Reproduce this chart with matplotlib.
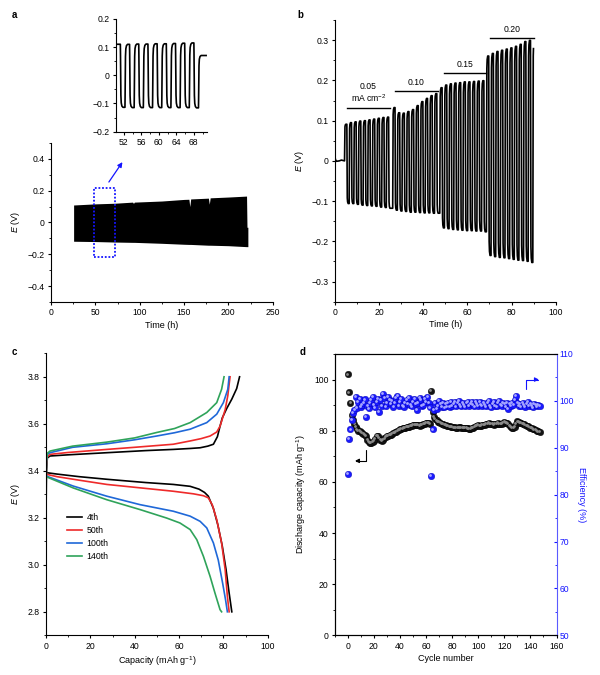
import numpy as np
import matplotlib
matplotlib.use("Agg")
import matplotlib.pyplot as plt
from matplotlib.ticker import MultipleLocator, FuncFormatter, FixedLocator
import matplotlib.transforms as mtransforms

# ---------------- DATA ----------------
# panel a, main: envelope of the long cycling trace (time h, upper V, lower V)
a_env_t = [25.5, 50, 72, 92, 93, 94, 125, 150, 155.5, 156.5, 157.5, 177.5, 178.5, 179.5, 200, 220.5, 221.0, 222.0]
a_env_up = [0.110, 0.117, 0.121, 0.128, 0.120, 0.128, 0.135, 0.145, 0.146, 0.100, 0.148, 0.153, 0.115, 0.155, 0.160, 0.166, -0.03, -0.03]
a_env_lo = [-0.118, -0.120, -0.123, -0.125, -0.125, -0.125, -0.131, -0.137, -0.138, -0.138, -0.138, -0.143, -0.143, -0.143, -0.146, -0.152, -0.152, -0.152]

# panel a, inset: switching times (h) and plateau potentials (V)
a_in_t0 = 50.3
a_in_v0 = 0.110
a_in_switch = [51.2, 52.25, 53.3, 54.35, 55.4, 56.45, 57.5, 58.55, 59.6, 60.65, 61.7,
               62.75, 63.8, 64.85, 65.9, 66.95, 68.0, 69.05, 70.8]
a_in_level = [-0.116, 0.112, -0.117, 0.113, -0.117, 0.113, -0.117, 0.114, -0.117, 0.114,
              -0.117, 0.115, -0.117, 0.116, -0.117, 0.117, -0.118, 0.072]

# panel b: rest period then four current densities
b_ocv_t = [0.0, 0.3, 0.8, 2.0, 3.0, 4.4]
b_ocv_v = [0.012, 0.003, -0.001, 0.0, 0.002, 0.0]
b_currents = ["0.05\nmA cm$^{-2}$", "0.10", "0.15", "0.20"]
b_start = [4.4, 26.2, 47.5, 68.6]
b_period = 2.1
b_upper = [
    [0.092, 0.097, 0.099, 0.101, 0.102, 0.104, 0.106, 0.108, 0.110, 0.111],
    [0.135, 0.122, 0.121, 0.125, 0.130, 0.140, 0.150, 0.158, 0.165, 0.170],
    [0.185, 0.192, 0.195, 0.197, 0.198, 0.200, 0.200, 0.201, 0.202, 0.203],
    [0.265, 0.272, 0.277, 0.280, 0.283, 0.286, 0.290, 0.295, 0.302, 0.305, 0.305],
]
b_lower = [
    [-0.108, -0.108, -0.110, -0.112, -0.113, -0.114, -0.115, -0.117, -0.118, -0.120],
    [-0.125, -0.127, -0.128, -0.130, -0.130, -0.131, -0.132, -0.132, -0.133, -0.133],
    [-0.170, -0.172, -0.174, -0.175, -0.176, -0.177, -0.177, -0.178, -0.178, -0.180],
    [-0.240, -0.243, -0.245, -0.246, -0.248, -0.250, -0.252, -0.253, -0.255, -0.258],
]
b_bar_t = [(5.3, 25.2), (27.1, 46.7), (49.3, 68.6), (70.4, 90.2)]
b_bar_v = [0.1315, 0.1737, 0.2184, 0.306]

# panel c: charge / discharge profiles
c_labels = ["4th", "50th", "100th", "140th"]
c_ch_cap = [
    [0, 0.2, 0.6, 1.8, 10, 27.4, 45, 57.4, 65, 69.5, 73, 75.5, 77.3, 78.5, 79.5, 81.5, 83.8, 86.0, 87.3],
    [0, 0.2, 0.6, 1.8, 10, 27.4, 40, 57.4, 65, 70, 74, 77, 78.5, 79.5, 80.8, 82.0, 83.0],
    [0, 0.2, 0.6, 1.8, 12, 27.4, 40, 49.9, 58, 65, 72.5, 77, 80, 82.0, 82.6],
    [0, 0.2, 0.6, 1.8, 12, 27.4, 40, 49.9, 58, 65, 72.5, 77, 79.2, 80.3],
]
c_ch_E = [
    [3.21, 3.40, 3.455, 3.463, 3.468, 3.477, 3.486, 3.491, 3.495, 3.498, 3.505, 3.513, 3.545, 3.59, 3.625, 3.665, 3.705, 3.75, 3.80],
    [3.33, 3.42, 3.46, 3.470, 3.478, 3.491, 3.500, 3.513, 3.527, 3.537, 3.548, 3.565, 3.59, 3.62, 3.66, 3.72, 3.80],
    [3.35, 3.44, 3.47, 3.477, 3.500, 3.515, 3.532, 3.548, 3.562, 3.577, 3.605, 3.641, 3.69, 3.747, 3.80],
    [3.30, 3.44, 3.475, 3.484, 3.505, 3.522, 3.540, 3.563, 3.580, 3.605, 3.648, 3.69, 3.747, 3.80],
]
c_dis_cap = [
    [0, 0.3, 5, 15, 27.4, 45, 57.4, 65, 69, 71.5, 73.2, 75.5, 77.5, 79.5, 81.2, 82.6, 83.8],
    [0, 0.3, 5, 15, 27.4, 45, 57.4, 66.5, 71, 73.2, 75, 77, 79.2, 80.8, 81.8, 82.6],
    [0, 0.3, 12.3, 27.4, 42.4, 57.4, 65, 69.5, 72.5, 75.5, 77.7, 79.7, 81.0, 81.8],
    [0, 0.3, 12.3, 27.4, 42.4, 54.4, 60.4, 65, 68, 71, 74, 76.2, 78.5, 79.2],
]
c_dis_E = [
    [3.40, 3.392, 3.386, 3.375, 3.364, 3.350, 3.342, 3.334, 3.322, 3.308, 3.292, 3.24, 3.17, 3.08, 2.98, 2.88, 2.80],
    [3.39, 3.385, 3.375, 3.360, 3.342, 3.325, 3.313, 3.302, 3.294, 3.285, 3.255, 3.192, 3.093, 2.98, 2.866, 2.80],
    [3.385, 3.377, 3.335, 3.292, 3.256, 3.228, 3.207, 3.185, 3.157, 3.093, 3.02, 2.92, 2.85, 2.80],
    [3.38, 3.374, 3.327, 3.277, 3.235, 3.199, 3.178, 3.150, 3.107, 3.036, 2.951, 2.88, 2.809, 2.80],
]

# panel d: cycling performance (cycles 0..147)
d_cycle = list(range(148))
d_capacity = [
    102.0, 95.0, 91.0, 86.0, 84.0, 82.5, 81.5, 80.5, 80.0, 79.8, 79.5, 79.0, 78.8, 78.5, 78.0, 76.5,
    75.5, 75.2, 75.3, 75.6, 76.0, 76.8, 77.8, 78.0, 77.2, 76.5, 76.0, 76.3, 77.0, 77.5, 77.8, 78.0,
    78.2, 78.5, 78.8, 79.0, 79.3, 79.6, 80.0, 80.2, 80.5, 80.7, 80.9, 81.0, 81.2, 81.4, 81.5, 81.6,
    81.8, 82.0, 82.1, 82.3, 82.4, 82.4, 82.2, 82.0, 82.1, 82.3, 82.5, 82.7, 83.0, 83.2, 83.0, 82.8,
    95.5, 87.5, 85.5, 84.5, 84.0, 83.5, 83.3, 83.0, 82.8, 82.6, 82.4, 82.2, 82.0, 81.9, 81.7, 81.5,
    81.4, 81.3, 81.3, 81.2, 81.2, 81.3, 81.3, 81.2, 81.0, 81.0, 81.1, 81.0, 80.9, 80.8, 80.8, 81.0,
    81.2, 81.5, 81.8, 82.0, 82.1, 82.0, 82.0, 82.2, 82.3, 82.3, 82.5, 82.8, 83.0, 82.8, 82.5, 82.5,
    82.4, 82.5, 82.8, 83.0, 82.8, 82.5, 82.7, 83.0, 83.3, 83.2, 83.0, 82.5, 82.0, 81.5, 81.2, 81.0,
    81.5, 82.5, 83.6, 83.4, 83.2, 83.0, 82.8, 82.5, 82.3, 82.0, 81.8, 81.5, 81.2, 81.0, 80.8, 80.5,
    80.3, 80.0, 79.7, 79.4,
]
d_efficiency = [
    84.5, 91.8, 93.9, 95.9, 97.5, 98.0, 100.9, 98.5, 99.8, 100.5, 98.7, 99.2, 99.5, 100.3, 96.6, 99.0,
    98.4, 99.5, 100.2, 100.8, 99.1, 98.6, 99.8, 100.5, 97.7, 100.2, 99.0, 101.4, 100.6, 98.8, 99.5, 100.8,
    100.2, 99.3, 100.0, 98.7, 99.6, 100.6, 101.0, 99.0, 99.8, 100.5, 98.9, 98.7, 99.5, 100.2, 99.4, 100.7,
    99.1, 98.8, 99.8, 100.4, 99.3, 98.0, 99.6, 100.6, 100.2, 99.0, 99.1, 100.5, 99.8, 100.8, 99.5, 98.6,
    84.0, 93.9, 98.0, 99.5, 98.3, 99.0, 100.0, 99.3, 98.7, 99.6, 98.6, 99.4, 98.8, 99.6, 98.7, 99.7,
    98.9, 99.4, 99.7, 98.8, 99.5, 99.9, 99.2, 98.8, 99.6, 99.2, 98.8, 99.5, 99.7, 98.9, 99.3, 99.8,
    99.1, 98.8, 99.7, 99.3, 98.9, 99.8, 99.2, 98.9, 99.6, 99.2, 98.8, 99.5, 99.9, 99.0, 98.6, 99.4,
    99.7, 99.0, 98.8, 99.5, 99.9, 99.2, 99.0, 99.6, 99.3, 98.8, 99.5, 98.2, 99.4, 99.0, 99.6, 99.1,
    100.2, 101.0, 99.6, 99.0, 99.4, 98.8, 99.5, 99.1, 98.7, 99.4, 99.7, 98.9, 99.3, 99.0, 98.6, 99.4,
    99.1, 98.8, 99.2, 99.0,
]

# ---------------- STYLE ----------------
plt.rcParams.update({
    "font.family": ["Liberation Sans", "DejaVu Sans"],
    "font.size": 6,
    "mathtext.fontset": "custom",
    "mathtext.rm": "Liberation Sans",
    "mathtext.it": "Liberation Sans:italic",
    "mathtext.bf": "Liberation Sans:bold",
    "axes.linewidth": 0.8,
    "xtick.major.width": 0.8, "ytick.major.width": 0.8,
    "xtick.minor.width": 0.6, "ytick.minor.width": 0.6,
    "xtick.major.size": 2.5, "ytick.major.size": 2.5,
    "xtick.minor.size": 1.5, "ytick.minor.size": 1.5,
    "xtick.labelsize": 6.2, "ytick.labelsize": 6.2,
    "axes.labelsize": 6.5,
    "xtick.major.pad": 2.0, "ytick.major.pad": 2.0,
    "axes.labelpad": 2.5,
})

BLUE = "#1414ff"
AXBLUE = "#5a5aff"
C_COLORS = ["#000000", "#ee2a2a", "#1f68d8", "#2fa35a"]

SHAPE_DT = [0.0, 0.03, 0.07, 0.12, 0.2, 0.35, 0.6]
SHAPE_F = [0.0, 0.15, 0.55, 0.80, 0.92, 0.97, 0.99]


def square_trace(t0, v0, switch, levels):
    ts, vs = [t0], [v0]
    v = v0
    for i, L in enumerate(levels):
        s, e = switch[i], switch[i + 1]
        for dt, f in zip(SHAPE_DT, SHAPE_F):
            if s + dt < e:
                ts.append(s + dt)
                vs.append(v + (L - v) * f)
        fe = float(np.interp(e - s, SHAPE_DT + [1e9], SHAPE_F + [1.0]))
        v = v + (L - v) * fe
        ts.append(e)
        vs.append(v)
    return np.array(ts), np.array(vs)


def fmt_v(val, pos):
    if abs(val) < 1e-9:
        return "0"
    return f"{val:.1f}".replace("-", "\u2212")


def outward(ax):
    ax.tick_params(which="both", direction="out")


fig = plt.figure(figsize=(6, 6.75), dpi=100)

# ---------------- panel a main ----------------
axa = fig.add_axes([0.085, 0.5526, 0.3695, 0.2356])
axa.fill_between(a_env_t, a_env_lo, a_env_up, color="black", lw=0)
axa.set_xlim(0, 250)
axa.set_ylim(-0.5, 0.5)
axa.xaxis.set_major_locator(MultipleLocator(50))
axa.xaxis.set_minor_locator(MultipleLocator(25))
axa.yaxis.set_major_locator(MultipleLocator(0.2))
axa.yaxis.set_minor_locator(MultipleLocator(0.1))
axa.yaxis.set_major_formatter(FuncFormatter(fmt_v))
for sp in ("top", "right"):
    axa.spines[sp].set_visible(False)
outward(axa)
axa.set_xlabel("Time (h)")
axa.set_ylabel("$E$ (V)", labelpad=4)
axa.add_patch(plt.Rectangle((48.5, -0.218), 23.5, 0.436, fill=False, ec=BLUE, lw=1.3, ls=(0, (1, 1))))
axa.annotate("", xy=(82.3, 0.394), xytext=(63.5, 0.24),
             arrowprops=dict(arrowstyle="-|>", color=BLUE, lw=0.9, mutation_scale=7))

# ---------------- panel a inset ----------------
axi = fig.add_axes([0.1933, 0.805, 0.1517, 0.167])
ti, vi = square_trace(a_in_t0, a_in_v0, a_in_switch, a_in_level)
axi.plot(ti, vi, color="black", lw=1.2, solid_joinstyle="round")
axi.set_xlim(50.2, 71.0)
axi.set_ylim(-0.2, 0.2)
axi.xaxis.set_major_locator(FixedLocator([52, 56, 60, 64, 68]))
axi.xaxis.set_minor_locator(FixedLocator([54, 58, 62, 66, 70]))
axi.yaxis.set_major_locator(MultipleLocator(0.1))
axi.yaxis.set_minor_locator(MultipleLocator(0.05))
axi.yaxis.set_major_formatter(FuncFormatter(fmt_v))
for sp in ("top", "right"):
    axi.spines[sp].set_visible(False)
outward(axi)

# ---------------- panel b ----------------
axb = fig.add_axes([0.558, 0.553, 0.3683, 0.4173])
switch, levels = [b_ocv_t[-1]], []
for s, (st, ups, los) in enumerate(zip(b_start, b_upper, b_lower)):
    for k, up in enumerate(ups):
        tr = st + k * b_period
        if k > 0 or s > 0:
            switch.append(tr)
        levels.append(up)
        if k < len(los):
            switch.append(tr + b_period / 2)
            levels.append(los[k])
last_partial = len(b_upper[-1]) > len(b_lower[-1])
switch.append(switch[-1] + (0.3 if last_partial else b_period / 2))
tb, vb = square_trace(b_ocv_t[-1], b_ocv_v[-1], switch, levels)
tb = np.concatenate([b_ocv_t[:-1], tb])
vb = np.concatenate([b_ocv_v[:-1], vb])
axb.plot(tb, vb, color="black", lw=1.2)
for lab, (x0, x1), yv in zip(b_currents, b_bar_t, b_bar_v):
    axb.plot([x0, x1], [yv, yv], color="black", lw=1.0)
    axb.text((x0 + x1) / 2, yv + 0.01, lab, ha="center", va="bottom", fontsize=6.2, linespacing=1.1)
axb.set_xlim(0, 100)
axb.set_ylim(-0.35, 0.35)
axb.xaxis.set_major_locator(MultipleLocator(20))
axb.xaxis.set_minor_locator(MultipleLocator(10))
axb.yaxis.set_major_locator(MultipleLocator(0.1))
axb.yaxis.set_minor_locator(MultipleLocator(0.05))
axb.yaxis.set_major_formatter(FuncFormatter(fmt_v))
for sp in ("top", "right"):
    axb.spines[sp].set_visible(False)
outward(axb)
axb.set_xlabel("Time (h)")
axb.set_ylabel("$E$ (V)", labelpad=4)

# ---------------- panel c ----------------
axc = fig.add_axes([0.0767, 0.0588, 0.3695, 0.4178])
handles = []
for i in range(4):
    h, = axc.plot(c_ch_cap[i], c_ch_E[i], color=C_COLORS[i], lw=1.2)
    axc.plot(c_dis_cap[i], c_dis_E[i], color=C_COLORS[i], lw=1.2)
    handles.append(h)
axc.set_xlim(0, 100)
axc.set_ylim(2.7, 3.9)
axc.xaxis.set_major_locator(MultipleLocator(20))
axc.xaxis.set_minor_locator(MultipleLocator(10))
axc.yaxis.set_major_locator(MultipleLocator(0.2))
axc.yaxis.set_minor_locator(MultipleLocator(0.1))
axc.yaxis.set_major_formatter(FuncFormatter(lambda v, p: f"{v:.1f}"))
for sp in ("top", "right"):
    axc.spines[sp].set_visible(False)
outward(axc)
axc.set_xlabel("Capacity (mAh g$^{-1}$)")
axc.set_ylabel("$E$ (V)", labelpad=4)
axc.legend(handles, c_labels, loc="upper left", bbox_to_anchor=(0.08, 0.445), frameon=False,
           handlelength=1.7, handletextpad=0.5, labelspacing=0.45, fontsize=6.3, borderaxespad=0)

# ---------------- panel d ----------------
axd = fig.add_axes([0.558, 0.0588, 0.3695, 0.4168])
axd2 = axd.twinx()
off = mtransforms.offset_copy(axd.transData, fig=fig, x=-0.6, y=0.6, units="points")
axd.scatter(d_cycle, d_capacity, s=22, c="#141414", edgecolors="#000000", linewidths=0.3, zorder=3)
axd.scatter(d_cycle, d_capacity, s=4, c="#8a8a8a", linewidths=0, transform=off, zorder=4)
off2 = mtransforms.offset_copy(axd2.transData, fig=fig, x=-0.6, y=0.6, units="points")
axd2.scatter(d_cycle, d_efficiency, s=22, c="#1a1aff", edgecolors="#0000b0", linewidths=0.3, zorder=3)
axd2.scatter(d_cycle, d_efficiency, s=4, c="#a8a8ff", linewidths=0, transform=off2, zorder=4)
axd.set_xlim(-10, 160)
axd.set_ylim(0, 110)
axd2.set_ylim(50, 110)
axd.xaxis.set_major_locator(MultipleLocator(20))
axd.xaxis.set_minor_locator(MultipleLocator(10))
axd.yaxis.set_major_locator(MultipleLocator(20))
axd.yaxis.set_minor_locator(MultipleLocator(10))
axd2.yaxis.set_major_locator(MultipleLocator(10))
axd2.yaxis.set_minor_locator(MultipleLocator(5))
axd.tick_params(which="both", direction="out", top=False)
axd2.tick_params(axis="y", which="both", direction="in", colors=BLUE)
axd2.spines["right"].set_color(AXBLUE)
axd.spines["right"].set_visible(False)
axd.set_xlabel("Cycle number")
axd.set_ylabel("Discharge capacity (mAh g$^{-1}$)", labelpad=4)
axd2.set_ylabel("Efficiency (%)", color=BLUE, rotation=270, labelpad=9)
# direction arrows (vertical stem then horizontal head)
axd.annotate("", xy=(5.4, 68.2), xytext=(13.6, 72.3),
             arrowprops=dict(arrowstyle="-|>", color="black", lw=0.8, mutation_scale=6,
                             shrinkA=0, shrinkB=0,
                             connectionstyle="angle,angleA=90,angleB=0,rad=0"))
axd.annotate("", xy=(146.6, 100.0), xytext=(136.9, 96.3),
             arrowprops=dict(arrowstyle="-|>", color=BLUE, lw=0.8, mutation_scale=6,
                             shrinkA=0, shrinkB=0,
                             connectionstyle="angle,angleA=90,angleB=0,rad=0"))

# panel letters
for lab, x, y in [("a", 12, 15), ("b", 297, 15), ("c", 12, 352), ("d", 300, 352)]:
    fig.text(x / 600, 1 - y / 675, lab, fontsize=7, fontweight="bold", va="center", ha="left")

fig.savefig("out.png", dpi=100)
